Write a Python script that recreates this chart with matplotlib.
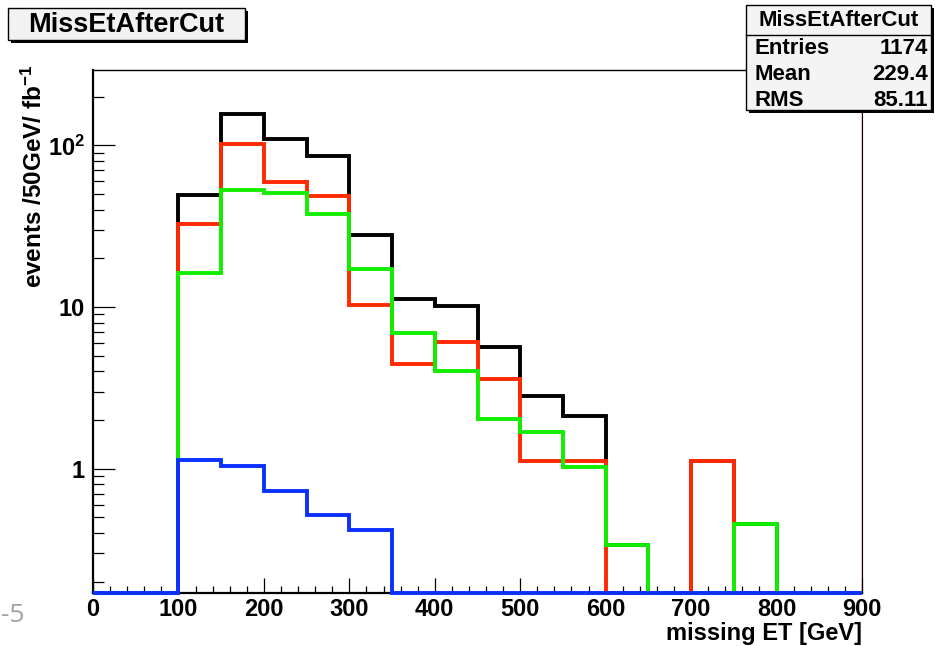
import numpy as np
import matplotlib
matplotlib.use("Agg")
import matplotlib.pyplot as plt
from matplotlib.patches import Rectangle
from matplotlib.ticker import FixedLocator, FixedFormatter, MultipleLocator

plt.rcParams['font.family'] = ['Liberation Sans', 'DejaVu Sans']
plt.rcParams['font.weight'] = 'bold'
plt.rcParams['mathtext.fontset'] = 'custom'
plt.rcParams['mathtext.rm'] = 'Liberation Sans:bold'
plt.rcParams['mathtext.it'] = 'Liberation Sans:bold'
plt.rcParams['mathtext.bf'] = 'Liberation Sans:bold'

# Missing ET histograms, 50 GeV bins from 0 to 900 GeV (events / 50 GeV / fb^-1)
bin_edges = np.arange(0, 950, 50)
total = [0, 0, 49.4, 155.7, 109.6, 86.0, 27.9, 11.3, 10.2, 5.65,
         2.80, 2.13, 0.339, 0, 1.11, 0.455, 0, 0]
red_sample = [0, 0, 32.5, 101.6, 59.7, 48.7, 10.3, 4.44, 6.12, 3.60,
              1.12, 1.12, 0, 0, 1.11, 0, 0, 0]
green_sample = [0, 0, 16.2, 53.0, 50.6, 37.7, 17.2, 6.90, 4.05, 2.03,
                1.70, 1.02, 0.339, 0, 0, 0.455, 0, 0]
blue_sample = [0, 0, 1.137, 1.04, 0.731, 0.52, 0.42, 0, 0, 0,
               0, 0, 0, 0, 0, 0, 0, 0]

hist_title = "MissEtAfterCut"
stats_rows = [("Entries", "1174"), ("Mean", "229.4"), ("RMS", "85.11")]
x_ticks = [0, 100, 200, 300, 400, 500, 600, 700, 800, 900]
y_ticks = [1, 10, 100]
y_tick_labels = ["1", "10", r"$10^{2}$"]

W, H = 935, 646
YMIN, YMAX = 0.1706, 292.5

fig = plt.figure(figsize=(W / 100, H / 100), dpi=100)


def fx(px):
    return px / W


def fy(py):
    return 1 - py / H


ax = fig.add_axes([fx(93), fy(593), fx(862) - fx(93), fy(70) - fy(593)])
ax.set_xlim(0, 900)
ax.set_yscale('log')
ax.set_ylim(YMIN, YMAX)

series = [(total, 'black'), (red_sample, '#ff2a00'),
          (green_sample, '#11ee00'), (blue_sample, '#0a30ff')]
for vals, col in series:
    v = np.asarray(vals, dtype=float)
    v = np.where(v > 0, v, YMIN)  # empty bins sit on the lower frame edge
    ax.stairs(v, bin_edges, baseline=None, color=col, lw=2.8,
              zorder=3, clip_on=False)

ax.axvline(900, color='#ee1100', lw=1.0, zorder=2)

for side in ['left', 'bottom']:
    ax.spines[side].set_linewidth(1.6)
ax.spines['top'].set_linewidth(1.0)
ax.spines['right'].set_linewidth(0.8)

ax.xaxis.set_major_locator(FixedLocator(x_ticks))
ax.xaxis.set_minor_locator(MultipleLocator(20))
ax.set_xticklabels([str(t) for t in x_ticks])
ax.yaxis.set_major_locator(FixedLocator(y_ticks))
ax.yaxis.set_major_formatter(FixedFormatter(y_tick_labels))
minor_y = [m * 10.0 ** d for d in (-1, 0, 1, 2) for m in range(2, 10)]
ax.yaxis.set_minor_locator(FixedLocator(minor_y))
ax.yaxis.set_minor_formatter(FixedFormatter([''] * len(minor_y)))

ax.tick_params(axis='x', which='major', direction='in', length=10.8,
               width=0.9, labelsize=17, pad=3.5, top=False)
ax.tick_params(axis='x', which='minor', direction='in', length=5.2,
               width=0.9, top=False)
ax.tick_params(axis='y', which='major', direction='in', length=15.8,
               width=0.9, labelsize=17, pad=6, right=False)
ax.tick_params(axis='y', which='minor', direction='in', length=7.9,
               width=0.9, right=False)
for lab in ax.get_xticklabels() + ax.get_yticklabels():
    lab.set_fontweight('bold')

# axis titles, aligned to the far ends of the axes
fig.text(fx(34), fy(65), r"events /50GeV/ fb$^{-1}$", rotation=90,
         ha='center', va='top', fontsize=17.5, fontweight='bold')
fig.text(fx(862), fy(645), "missing ET [GeV]", ha='right', va='bottom',
         fontsize=17, fontweight='bold')

# title box with drop shadow
shadow_off = 3
tb = (8, 8, 245, 40)
fig.patches.append(Rectangle((fx(tb[0] + shadow_off), fy(tb[3] + shadow_off)),
                             fx(tb[2] - tb[0]), fy(tb[1]) - fy(tb[3]),
                             transform=fig.transFigure, facecolor='black',
                             edgecolor='none', zorder=5))
fig.patches.append(Rectangle((fx(tb[0]), fy(tb[3])),
                             fx(tb[2] - tb[0]), fy(tb[1]) - fy(tb[3]),
                             transform=fig.transFigure, facecolor='#f2f2f2',
                             edgecolor='black', lw=1.0, zorder=6))
fig.text(fx((tb[0] + tb[2]) / 2), fy((tb[1] + tb[3]) / 2 + 1), hist_title,
         ha='center', va='center', fontsize=19.5, fontweight='bold', zorder=7)

# statistics box with drop shadow
sb = (746, 5, 931, 110)
fig.patches.append(Rectangle((fx(sb[0] + shadow_off), fy(sb[3] + shadow_off)),
                             fx(sb[2] - sb[0]), fy(sb[1]) - fy(sb[3]),
                             transform=fig.transFigure, facecolor='black',
                             edgecolor='none', zorder=5))
fig.patches.append(Rectangle((fx(sb[0]), fy(sb[3])),
                             fx(sb[2] - sb[0]), fy(sb[1]) - fy(sb[3]),
                             transform=fig.transFigure, facecolor='#f4f4f4',
                             edgecolor='black', lw=1.0, zorder=6))
fig.lines.append(plt.Line2D([fx(sb[0]), fx(sb[2])], [fy(35), fy(35)],
                            transform=fig.transFigure, color='black',
                            lw=1.0, zorder=7))
fig.text(fx((sb[0] + sb[2]) / 2), fy(21), hist_title, ha='center',
         va='center', fontsize=16, fontweight='bold', zorder=7)
for i, (name, val) in enumerate(stats_rows):
    yy = fy(48 + 26 * i)
    fig.text(fx(755), yy, name, ha='left', va='center', fontsize=16,
             fontweight='bold', zorder=7)
    fig.text(fx(928), yy, val, ha='right', va='center', fontsize=16,
             fontweight='bold', zorder=7)

# page number fragment at the lower left corner
fig.text(fx(1), fy(616), "-5", ha='left', va='center', fontsize=19,
         fontweight='normal', color='#a0a0a0', family=['Open Sans', 'DejaVu Sans'])

fig.savefig("out.png", dpi=100)
